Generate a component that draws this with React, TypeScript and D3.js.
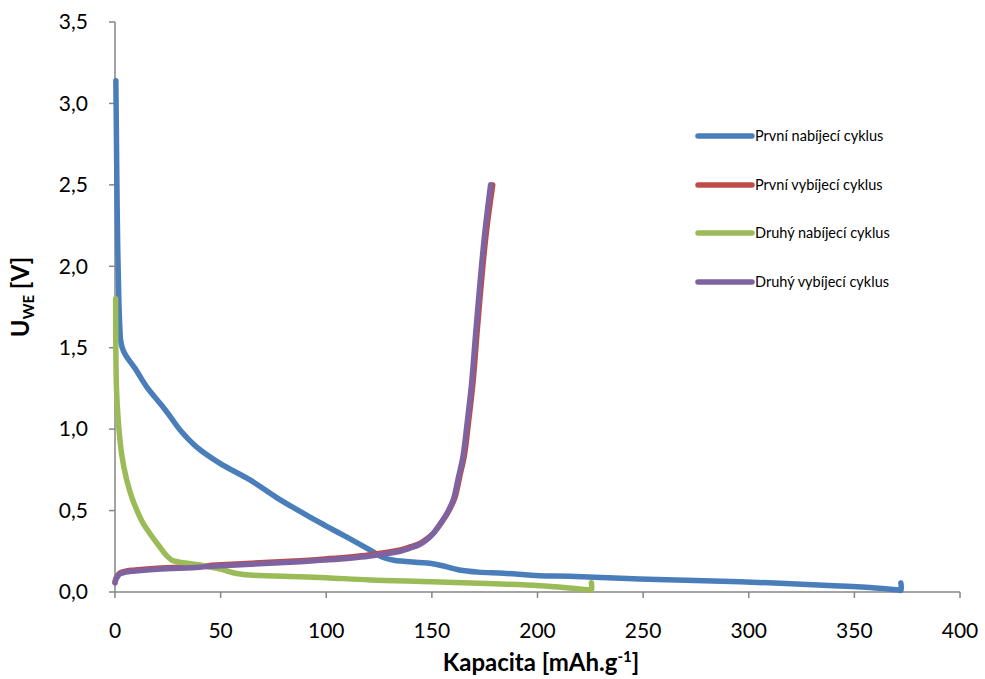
import React from "react";
import * as d3 from "d3";

type P = [number, number];

const seriesNames = [
  "První nabíjecí cyklus",
  "První vybíjecí cyklus",
  "Druhý nabíjecí cyklus",
  "Druhý vybíjecí cyklus",
];
const seriesColors = ["#4A7EBB", "#BE4B48", "#9BBB59", "#7F63A1"];

const firstCharge: P[] = [
  [0.4, 3.14], [0.6, 2.9], [0.9, 2.5], [1.3, 2.1], [1.8, 1.8], [2.3, 1.62], [2.7, 1.54],
  [4, 1.48], [5.5, 1.445], [9.5, 1.373], [15, 1.26], [22, 1.148], [26, 1.08],
  [30.8, 0.995], [38.7, 0.89], [49.7, 0.79], [63.9, 0.688], [76.5, 0.58],
  [92.3, 0.46], [100, 0.405], [110, 0.335], [117, 0.285], [122, 0.248], [127, 0.212],
  [132, 0.195], [149, 0.176], [156, 0.158], [163, 0.135], [172, 0.122], [184, 0.115],
  [201, 0.1], [215, 0.097], [248, 0.08], [296, 0.063], [343, 0.037], [360, 0.025],
  [370, 0.014], [372, 0.01], [372, 0.055],
];

const firstDischarge: P[] = [
  [0, 0.06], [0.5, 0.085], [1.5, 0.105], [2.4, 0.117], [5, 0.128], [8.5, 0.134],
  [20, 0.146], [40, 0.158], [48, 0.166], [87.6, 0.192], [99.4, 0.203], [120, 0.228],
  [135, 0.258], [140, 0.278], [144.5, 0.3], [148, 0.33], [151.3, 0.37], [154.2, 0.42],
  [157.7, 0.49], [160.8, 0.575], [163.2, 0.71], [165.4, 0.84], [167.5, 1.06],
  [169.5, 1.29], [171.5, 1.61], [173.5, 1.91], [175.8, 2.21], [178.8, 2.5],
];

const secondCharge: P[] = [
  [0.3, 1.8], [0.4, 1.5], [0.7, 1.25], [1.5, 1.06], [3.1, 0.85], [5.5, 0.69],
  [8, 0.58], [11.8, 0.46], [13.4, 0.42], [17, 0.35], [21, 0.28], [24, 0.23],
  [26.8, 0.196], [30, 0.185], [40.2, 0.166], [50, 0.14], [57, 0.115], [63.9, 0.104],
  [87.6, 0.094], [100, 0.088], [120.7, 0.074], [150, 0.063], [180, 0.05],
  [201, 0.039], [215, 0.025], [224, 0.014], [225.5, 0.012], [225.5, 0.057],
];

const secondDischarge: P[] = [
  [0, 0.055], [0.5, 0.08], [1.5, 0.1], [2.4, 0.112], [5, 0.122], [8.5, 0.128],
  [20, 0.14], [40, 0.152], [48, 0.16], [87.6, 0.186], [99.4, 0.196], [120, 0.22],
  [135, 0.25], [139.6, 0.27], [144, 0.29], [147.5, 0.32], [150.7, 0.36],
  [153.5, 0.41], [157, 0.48], [160.1, 0.565], [162.5, 0.7], [164.7, 0.83],
  [166.8, 1.05], [168.8, 1.28], [170.8, 1.6], [172.8, 1.9], [175, 2.2], [177.8, 2.5],
];

const allSeries = [firstCharge, firstDischarge, secondCharge, secondDischarge];

const xTicks = [0, 50, 100, 150, 200, 250, 300, 350, 400];
const yTicks = [0, 0.5, 1, 1.5, 2, 2.5, 3, 3.5];

const W = 985;
const H = 679;
const plot = { left: 115, right: 960, top: 22, bottom: 592 };
const axisColor = "#868686";
const font = "Lato, 'Open Sans', sans-serif";

export default function App() {
  const x = d3.scaleLinear().domain([0, 400]).range([plot.left, plot.right]);
  const y = d3.scaleLinear().domain([0, 3.5]).range([plot.bottom, plot.top]);
  const line = d3
    .line<P>()
    .x((d) => x(d[0]))
    .y((d) => y(d[1]))
    .curve(d3.curveCatmullRom.alpha(0.5));
  const fmt = (v: number) => v.toFixed(1).replace(".", ",");

  const legendY = [136, 185, 233, 282];

  return (
    <svg
      width={W}
      height={H}
      style={{ position: "absolute", left: 0, top: 0, background: "#fff" }}
      fontFamily={font}
    >
      <rect width={W} height={H} fill="#fff" />
      {/* axes */}
      <line x1={plot.left} x2={plot.left} y1={plot.top} y2={plot.bottom} stroke={axisColor} strokeWidth={1.5} />
      <line x1={plot.left} x2={plot.right} y1={plot.bottom} y2={plot.bottom} stroke={axisColor} strokeWidth={1.5} />
      {yTicks.map((t) => (
        <g key={"y" + t}>
          <line x1={plot.left - 6} x2={plot.left} y1={y(t)} y2={y(t)} stroke={axisColor} strokeWidth={1.5} />
          <text x={88} y={y(t)} dy="0.35em" textAnchor="end" fontSize={21} fill="#000">
            {fmt(t)}
          </text>
        </g>
      ))}
      {xTicks.map((t) => (
        <g key={"x" + t}>
          <line x1={x(t)} x2={x(t)} y1={plot.bottom} y2={plot.bottom + 6} stroke={axisColor} strokeWidth={1.5} />
          <text x={x(t)} y={638} textAnchor="middle" fontSize={21} fill="#000">
            {t}
          </text>
        </g>
      ))}
      {/* axis titles */}
      <text x={541} y={671} textAnchor="middle" fontSize={24} fontWeight="bold" fill="#000">
        Kapacita [mAh.g
        <tspan dy={-9} fontSize={15}>-1</tspan>
        <tspan dy={9}>]</tspan>
      </text>
      <text
        transform={`translate(29, 297) rotate(-90)`}
        textAnchor="middle"
        fontSize={24}
        fontWeight="bold"
        fill="#000"
      >
        U<tspan dy={5} fontSize={15}>WE</tspan>
        <tspan dy={-5}> [V]</tspan>
      </text>
      {/* series */}
      {allSeries.map((s, i) => (
        <path
          key={"s" + i}
          d={line(s) || ""}
          fill="none"
          stroke={seriesColors[i]}
          strokeWidth={5.5}
          strokeLinecap="round"
          strokeLinejoin="round"
        />
      ))}
      {/* legend */}
      {seriesNames.map((n, i) => (
        <g key={"l" + i}>
          <line
            x1={698}
            x2={752}
            y1={legendY[i]}
            y2={legendY[i]}
            stroke={seriesColors[i]}
            strokeWidth={5.5}
            strokeLinecap="round"
          />
          <text x={755} y={legendY[i]} dy="0.35em" fontSize={14.5} fill="#000">
            {n}
          </text>
        </g>
      ))}
    </svg>
  );
}
